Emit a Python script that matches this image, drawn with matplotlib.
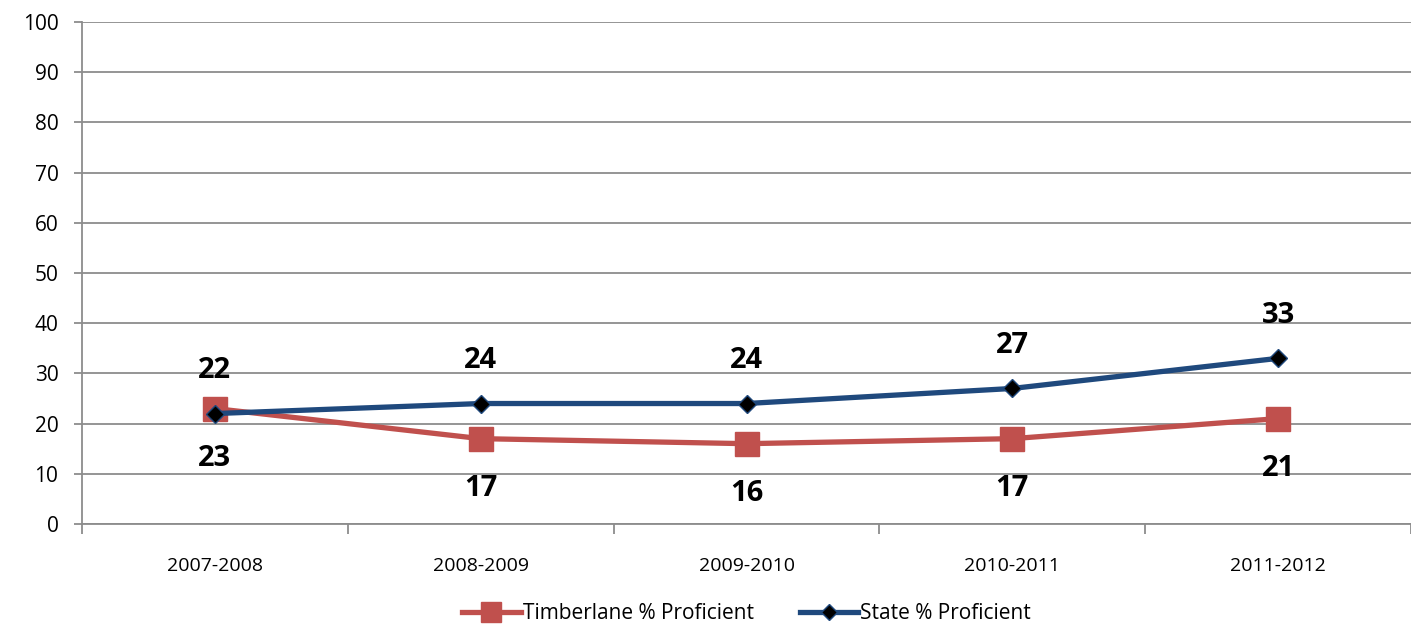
import matplotlib.pyplot as plt
import numpy as np

years = ['2007-2008', '2008-2009', '2009-2010', '2010-2011', '2011-2012']
timberlane = [23, 17, 16, 17, 21]
state = [22, 24, 24, 27, 33]

plt.rcParams['font.family'] = ['Open Sans', 'DejaVu Sans']

fig = plt.figure(figsize=(14.11, 6.27), dpi=100)
ax = fig.add_axes([82/1411, 1 - 524/627, (1411 - 82)/1411, (524 - 22)/627])

x = np.arange(len(years))
ax.plot(x, timberlane, color='#C0504D', lw=3.8, marker='s', ms=17,
        mfc='#C0504D', mec='#C0504D', label='Timberlane % Proficient', zorder=3)
ax.plot(x, state, color='#1F497D', lw=3.8, marker='D', ms=9,
        mfc='black', mec='#1F497D', mew=1, label='State % Proficient', zorder=4)

for xi, v in zip(x, timberlane):
    ax.annotate(str(v), (xi, v), xytext=(0, -36), textcoords='offset points',
                ha='center', va='center', fontsize=21, fontweight='bold')
for xi, v in zip(x, state):
    ax.annotate(str(v), (xi, v), xytext=(0, 31), textcoords='offset points',
                ha='center', va='center', fontsize=21, fontweight='bold')

ax.set_xlim(-0.5, len(years) - 0.5)
ax.set_ylim(0, 100)
ax.set_yticks(range(0, 101, 10))
ax.yaxis.grid(True, color='#8C8C8C', lw=1.3)
ax.set_axisbelow(True)
ax.set_xticks(x)
ax.set_xticklabels(years)
ax.set_xticks(np.arange(-0.5, len(years), 1), minor=True)
ax.tick_params(axis='x', which='major', length=0, pad=24, labelsize=14)
ax.tick_params(axis='x', which='minor', length=7, color='#8C8C8C', width=1.3)
ax.tick_params(axis='y', length=6, color='#8C8C8C', width=1.3, labelsize=15, pad=11)

for s in ['top', 'right']:
    ax.spines[s].set_visible(False)
for s in ['left', 'bottom']:
    ax.spines[s].set_color('#8C8C8C')
    ax.spines[s].set_linewidth(1.3)

ax.legend(loc='center', bbox_to_anchor=(0.5, -0.178), ncol=2, frameon=False,
          fontsize=15, handlelength=2.8, handletextpad=0.1, columnspacing=2.2,
          markerscale=0.85, borderpad=0.2)

fig.savefig('out.png', dpi=100)
